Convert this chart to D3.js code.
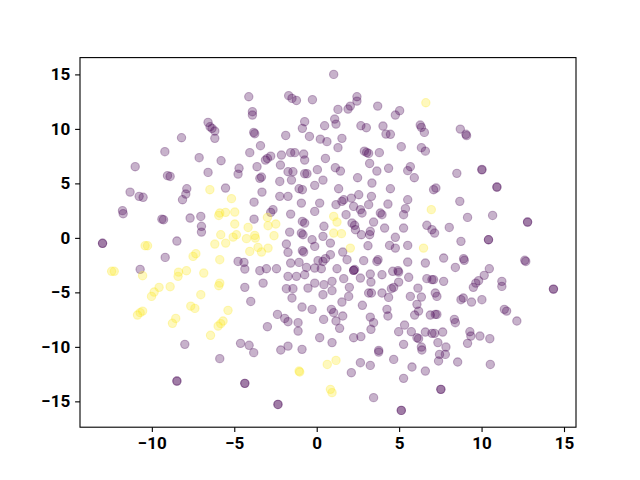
<!DOCTYPE html>
<html>
<head>
<meta charset="utf-8">
<script src="https://cdn.jsdelivr.net/npm/d3@7"></script>
<style>
  html, body { margin: 0; padding: 0; background: #fff; }
</style>
</head>
<body>
<svg id="chart"></svg>
<script>
// cluster 0 (purple) and cluster 1 (yellow), [x, y]
const purplePts = [
  [-8.20,9.19],[-9.21,7.91],[-7.13,7.36],[-11.01,6.53],[-9.05,5.71],[-8.89,5.64],
  [-4.12,12.95],[-1.70,13.05],[-1.50,12.80],[-1.23,12.61],[-0.26,12.68],[-3.90,11.58],[-3.90,11.27],
  [-6.59,10.60],[-6.47,10.20],[-6.35,10.05],[-6.18,9.80],[-6.18,9.13],[-3.82,9.68],[-3.76,9.56],
  [-1.88,9.40],[-0.73,10.66],[-0.87,10.05],[-0.44,9.31],[0.48,10.29],[0.22,9.06],[0.62,8.83],
  [-3.41,8.46],[-4.06,7.82],[-1.58,7.82],[-1.33,7.82],[-0.79,7.69],[-0.73,7.14],[-2.14,7.60],
  [-2.79,7.50],[-2.99,7.29],[-3.11,7.14],[0.53,7.29],[-5.80,7.08],[-4.71,6.38],[-4.77,5.85],
  [-3.62,6.53],[-2.20,6.68],[-1.74,6.07],[-1.44,6.07],[-0.73,5.89],[-0.59,5.89],[0.04,6.26],
  [-6.59,6.01],[-3.45,5.46],[-3.35,5.58],[-2.24,5.18],[-1.53,5.30],[0.38,5.30],
  [1.03,15.0],[2.44,12.95],[2.44,12.55],[2.04,12.09],[1.90,11.82],[1.29,11.79],[3.70,12.09],
  [5.03,11.67],[4.77,11.27],[1.09,10.90],[1.17,10.44],[2.68,10.29],[3.01,10.11],[4.02,10.26],
  [4.20,9.52],[4.47,9.50],[6.28,10.35],[6.35,10.14],[6.53,9.68],[1.53,9.13],[1.29,8.28],
  [5.13,8.37],[6.35,8.28],[6.59,7.96],[2.89,7.96],[3.15,7.75],[3.03,7.84],[3.80,7.82],
  [3.21,6.83],[1.13,6.44],[1.44,6.13],[3.65,6.13],[4.36,6.38],[5.68,6.53],[5.52,6.17],
  [2.48,5.52],[5.92,5.52],
  [8.71,9.98],[9.05,9.50],[9.09,9.38],[8.50,5.92],[10.02,6.28],[10.02,6.24],
  [-11.32,4.20],[-10.77,3.81],[-10.53,3.72],[-7.88,4.51],[-7.94,4.02],[-8.14,3.50],
  [-11.78,2.50],[-11.74,2.22],[-9.39,1.72],[-9.29,1.67],[-7.68,1.82],[-7.03,1.97],
  [-6.99,1.06],[-6.99,0.53],[-12.99,-0.50],[-12.99,-0.50],[-8.48,-0.29],[-9.19,-1.79],[-10.71,-2.89],
  [-5.53,4.57],[-3.32,4.20],[-3.80,3.28],[-2.24,3.81],[-1.74,3.81],[-1.07,4.51],[-0.87,4.42],
  [-0.12,4.82],[-2.65,2.59],[-2.79,2.34],[-1.58,2.18],[-0.12,2.43],[0.18,3.19],[-0.93,3.19],
  [-3.80,1.72],[-0.87,1.51],[-0.73,1.36],[0.44,1.06],[-1.64,0.53],[-0.93,0.44],[-0.83,0.29],
  [-0.28,-0.17],[0.38,0.14],[-1.84,-0.57],[-1.74,-1.33],[-0.87,-1.17],[-0.79,-1.30],[-0.12,-0.78],
  [0.08,-2.09],[0.38,-2.16],[0.53,-1.91],[-4.77,-2.16],[-4.41,-2.25],[-4.36,-2.86],[-3.45,-3.01],
  [-3.05,-2.83],[-2.44,-2.83],[-1.58,-2.31],[-1.07,-2.25],[-0.62,-2.71],[-1.74,-3.53],[-1.23,-3.53],
  [-0.73,-3.38],[-0.12,-2.77],[0.28,-2.83],[-4.36,-4.54],[-3.25,-4.15],[-1.84,-4.66],[-1.44,-4.66],
  [-0.53,-4.61],[-0.12,-4.15],[0.44,-4.29],[0.38,-5.21],[-1.50,-5.52],[-4.00,-5.83],
  [1.33,4.51],[3.35,5.03],[4.47,4.51],[7.09,4.42],[7.23,4.57],[1.64,3.50],[1.53,3.35],
  [2.10,3.65],[2.55,3.96],[3.32,3.81],[1.17,3.05],[2.24,2.89],[2.65,2.59],[2.75,2.28],
  [3.15,3.05],[4.32,3.10],[5.52,3.50],[5.38,2.68],[5.27,2.13],[3.86,2.28],[3.96,2.13],
  [1.78,2.13],[2.14,1.36],[2.30,1.15],[3.45,1.45],[6.68,1.15],[6.99,0.75],[7.15,0.44],
  [8.04,0.96],[4.12,0.90],[5.27,0.90],[3.25,0.60],[3.21,0.29],[2.35,0.75],[2.71,0.29],
  [0.83,-0.48],[4.77,0.05],[3.11,-0.72],[4.42,-0.69],[4.77,-0.94],[5.52,-0.69],[1.58,-1.30],
  [0.83,-1.54],[7.70,-1.85],[3.72,-2.00],[3.65,-2.16],[2.85,-2.09],[1.84,-2.00],[5.52,-2.22],
  [6.59,-2.31],[2.24,-2.98],[2.24,-2.98],[2.30,-2.90],[1.23,-2.83],[4.61,-3.07],[4.93,-3.01],
  [4.97,-3.14],[3.25,-3.32],[3.96,-3.38],[5.58,-3.62],[1.64,-3.74],[2.65,-3.69],[6.68,-3.74],
  [6.99,-3.83],[7.09,-3.83],[7.70,-3.99],[0.93,-3.99],[3.29,-4.06],[4.97,-4.06],[6.14,-4.61],
  [1.98,-4.54],[4.53,-4.66],[4.67,-4.54],[0.93,-4.84],[3.15,-5.06],[3.32,-5.06],[3.96,-5.06],
  [5.68,-5.37],[1.94,-5.37],[4.36,-5.46],[6.35,-5.43],[7.19,-5.06],[7.29,-5.37],[1.53,-5.89],
  [2.77,-6.19],
  [10.93,4.66],[10.93,4.66],[8.68,3.35],[9.15,1.88],[10.67,2.06],[12.79,1.45],[12.79,1.45],
  [8.75,-0.32],[10.42,-0.17],[10.42,-0.17],[8.91,-1.91],[8.95,-2.06],[8.41,-2.71],[12.62,-2.06],
  [12.68,-2.16],[10.47,-2.83],[10.16,-3.44],[9.82,-3.93],[9.65,-4.15],[9.50,-4.54],[11.23,-3.99],
  [11.23,-4.45],[14.36,-4.70],[14.36,-4.70],[8.75,-5.67],[8.89,-5.52],[9.39,-5.89],[10.02,-5.67],
  [-8.00,-9.77],[-8.48,-13.14],[-8.48,-13.14],
  [-2.38,-7.02],[-1.94,-7.39],[-1.74,-7.69],[-1.13,-7.78],[-1.13,-8.55],[-0.89,-6.35],[-0.28,-6.56],
  [0.42,-7.48],[-2.99,-8.15],[-4.62,-9.68],[-4.10,-9.86],[-3.82,-10.53],[-2.18,-10.29],[-1.74,-9.93],
  [-0.89,-10.23],[0.18,-9.16],[-5.88,-11.08],[-4.36,-13.35],[-4.36,-13.35],[-2.35,-15.28],[-2.35,-15.28],
  [0.89,-6.56],[1.03,-6.86],[1.58,-7.17],[1.17,-7.63],[1.39,-8.30],[3.25,-7.27],[3.45,-7.78],
  [3.29,-8.39],[4.26,-6.56],[4.32,-7.17],[6.08,-6.10],[6.18,-6.72],[5.94,-7.08],[6.89,-7.08],
  [7.19,-7.02],[7.29,-7.02],[0.93,-9.61],[2.24,-9.16],[2.68,-9.06],[4.97,-8.61],[5.33,-8.00],
  [5.74,-8.61],[6.08,-9.16],[6.18,-9.25],[6.59,-8.64],[6.99,-8.76],[7.15,-8.76],[7.64,-8.64],
  [5.27,-9.77],[6.35,-10.02],[6.38,-10.29],[7.35,-9.61],[7.84,-10.02],[7.80,-10.69],[7.45,-10.69],
  [7.39,-11.30],[3.76,-10.32],[3.76,-10.48],[4.67,-11.15],[2.65,-11.45],[3.25,-11.70],[5.78,-11.85],
  [6.59,-12.22],[2.10,-12.37],[5.27,-12.89],[3.45,-14.66],[7.53,-13.90],[7.53,-13.90],
  [5.13,-15.83],[5.13,-15.83],
  [11.38,-6.56],[11.52,-6.72],[12.14,-7.63],[8.35,-7.48],[8.41,-7.78],[9.29,-8.61],[9.35,-9.01],
  [9.90,-9.01],[10.50,-9.25],[9.15,-9.68],[8.55,-11.39],[10.53,-11.61]
];

const yellowPts = [
  [6.62,12.40],
  [-10.41,-0.72],[-10.26,-0.72],[-7.33,-1.45],[-7.50,-1.70],[-12.44,-3.07],[-12.28,-3.07],
  [-10.56,-3.47],[-8.38,-3.14],[-8.41,-3.53],[-7.90,-3.01],[-6.85,-3.23],[-9.56,-4.54],
  [-8.89,-4.48],[-9.86,-4.97],[-10.02,-5.37],[-7.03,-5.21],
  [-6.48,4.42],[-5.17,3.60],[-5.88,2.28],[-5.94,2.06],[-5.53,2.34],[-4.97,2.37],[-2.99,1.88],
  [-4.97,1.27],[-4.16,0.96],[-2.95,1.12],[-2.48,1.27],[-5.82,0.29],[-4.87,0.29],[-5.07,0.07],
  [-4.26,-0.07],[-3.76,0.23],[-3.72,-0.02],[-2.59,0.20],[-6.18,-0.57],[-5.52,-0.48],[-4.06,-1.24],
  [-3.56,-0.87],[-3.35,-1.30],[-2.95,-0.94],[-5.88,-2.00],[-5.88,-4.15],[-5.94,-4.39],
  [6.95,2.59],[1.03,1.97],[1.23,1.45],[1.03,0.44],[1.50,0.39],[2.04,-0.94],[6.48,-0.94],
  [-10.87,-7.08],[-10.71,-6.86],[-10.56,-6.72],[-8.75,-7.84],[-8.55,-7.39],[-7.64,-6.26],[-7.39,-6.47],
  [-5.38,-6.65],[-5.68,-7.63],[-5.82,-7.87],[-5.98,-8.09],[-6.44,-8.94],[-1.07,-12.22],[-1.03,-12.31],
  [0.64,-11.61],[1.17,-11.24],[0.83,-13.90],[0.93,-14.20]
];

const xTicks = [-10, -5, 0, 5, 10, 15];
const yTicks = [-15, -10, -5, 0, 5, 10, 15];

const purple = "#440154";
const yellow = "#fde725";

const width = 640;
const height = 480;
const box = { left: 80, right: 576, top: 57.6, bottom: 427.2 };

const svg = d3.select("#chart").attr("width", width).attr("height", height);

// matplotlib-style autoscale: data extent plus 5% margin on each side
const all = purplePts.concat(yellowPts);
const pad = (ext) => {
  const m = (ext[1] - ext[0]) * 0.05;
  return [ext[0] - m, ext[1] + m];
};
const x = d3.scaleLinear(pad(d3.extent(all, (d) => d[0])), [box.left, box.right]);
const y = d3.scaleLinear(pad(d3.extent(all, (d) => d[1])), [box.bottom, box.top]);

const plot = svg.append("g");

const drawPts = (pts, color) =>
  plot
    .append("g")
    .selectAll("circle")
    .data(pts)
    .join("circle")
    .attr("cx", (d) => x(d[0]))
    .attr("cy", (d) => y(d[1]))
    .attr("r", 4.17)
    .attr("fill", color)
    .attr("fill-opacity", 0.3)
    .attr("stroke", color)
    .attr("stroke-opacity", 0.3)
    .attr("stroke-width", 1.1);

drawPts(purplePts, purple);
drawPts(yellowPts, yellow);

const fmt = (d) => (d < 0 ? "\u2212" + Math.abs(d) : String(d));

const xAxis = svg
  .append("g")
  .attr("transform", `translate(0,${box.bottom})`)
  .call(d3.axisBottom(x).tickValues(xTicks).tickFormat(fmt).tickSizeInner(4.9).tickSizeOuter(0).tickPadding(4.9));

const yAxis = svg
  .append("g")
  .attr("transform", `translate(${box.left},0)`)
  .call(d3.axisLeft(y).tickValues(yTicks).tickFormat(fmt).tickSizeInner(4.9).tickSizeOuter(0).tickPadding(4.9));

[xAxis, yAxis].forEach((g) => {
  g.select(".domain").remove();
  g.selectAll("line").attr("stroke", "#000").attr("stroke-width", 1.1);
  g.selectAll("text")
    .attr("fill", "#000")
    .style("font-family", "Roboto, sans-serif")
    .style("font-weight", "bold")
    .style("font-size", "17px");
});

// axes frame
svg
  .append("rect")
  .attr("x", box.left)
  .attr("y", box.top)
  .attr("width", box.right - box.left)
  .attr("height", box.bottom - box.top)
  .attr("fill", "none")
  .attr("stroke", "#000")
  .attr("stroke-width", 1.1);
</script>
</body>
</html>
